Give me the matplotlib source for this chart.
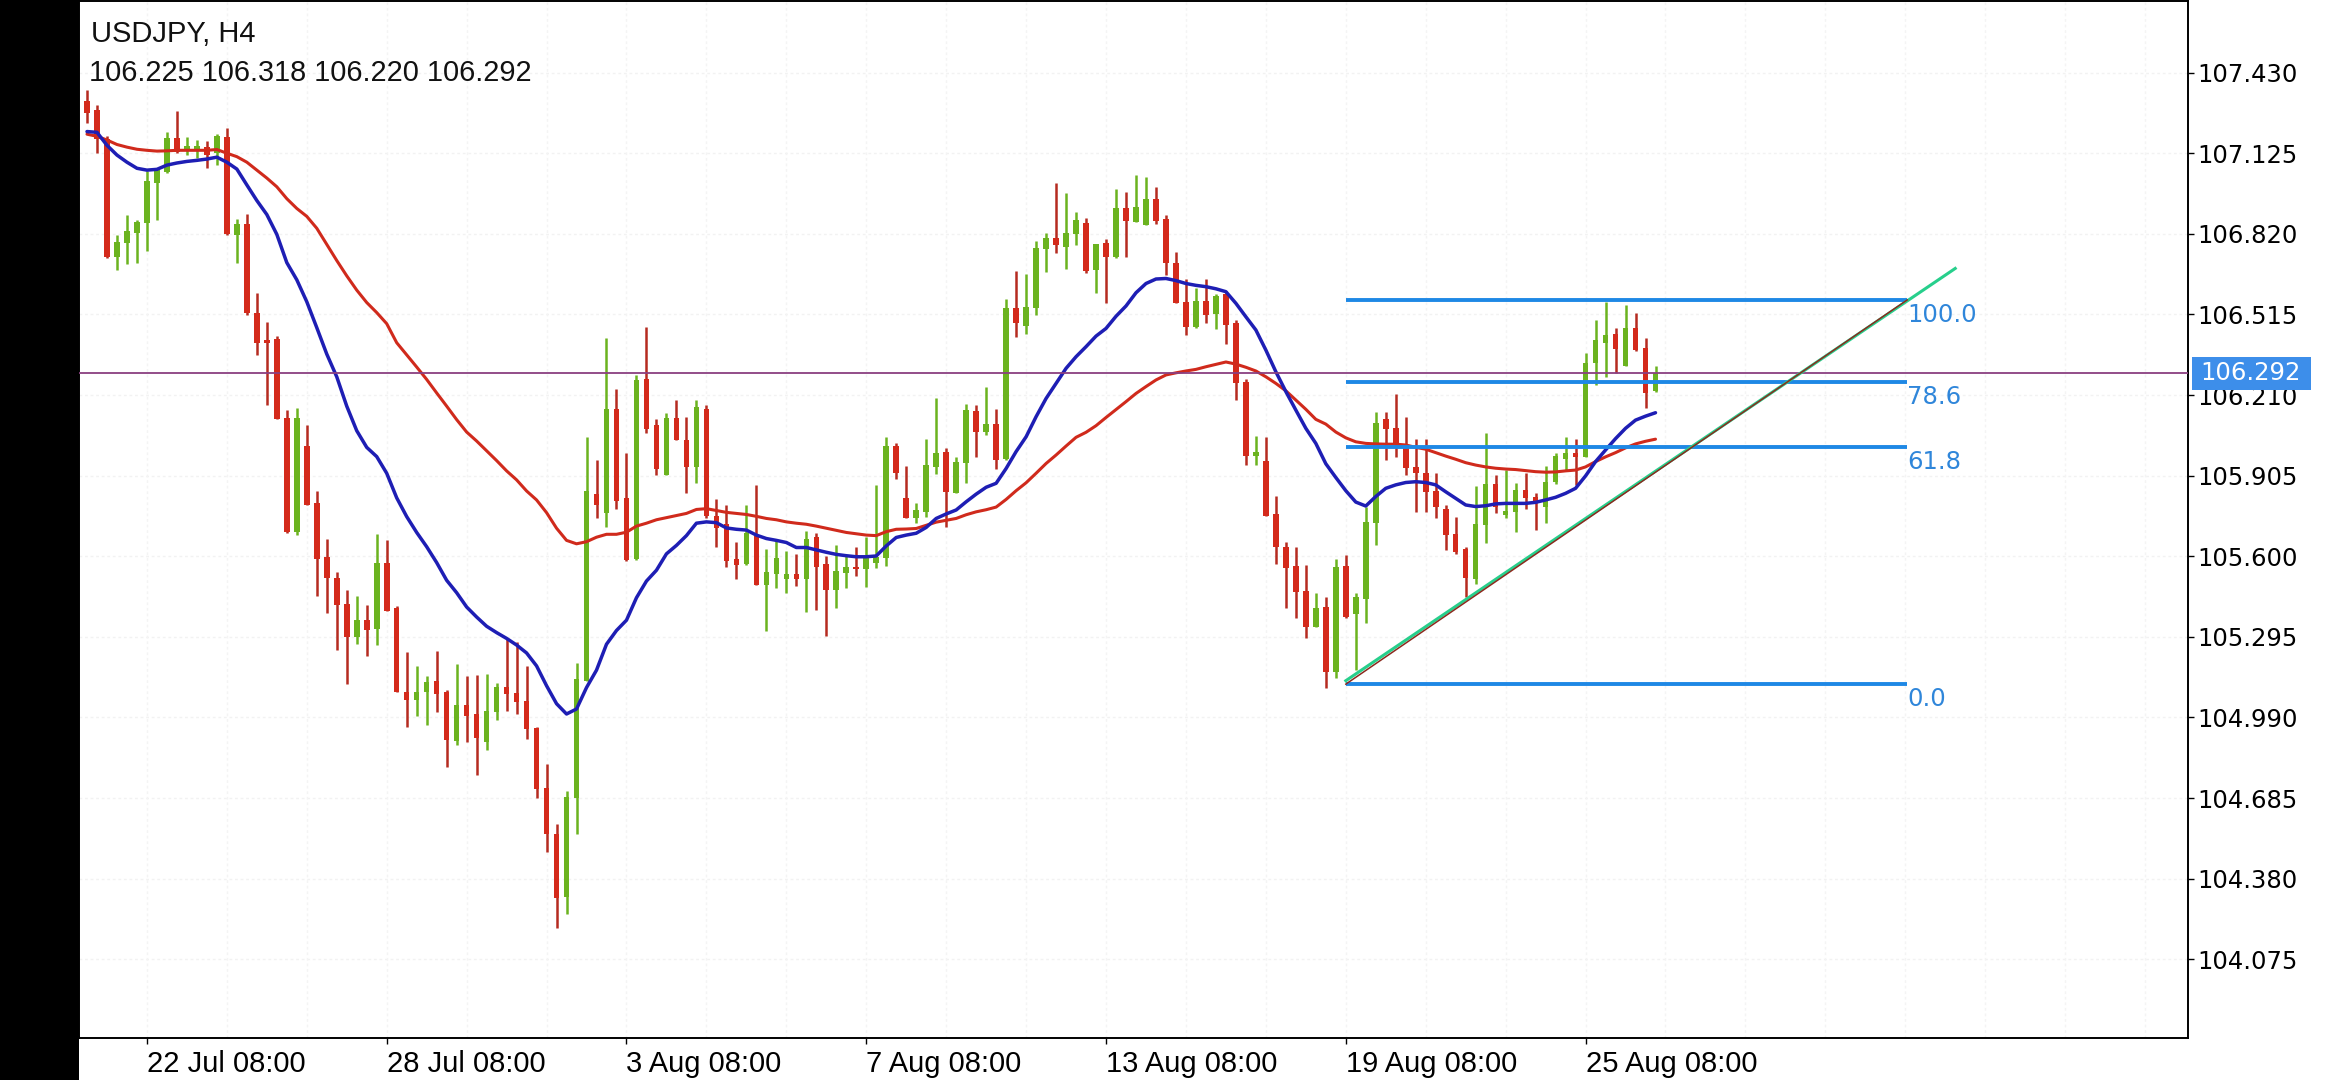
import matplotlib
matplotlib.use("Agg")
import matplotlib.pyplot as plt
from matplotlib.patches import Rectangle
import matplotlib.transforms as mtransforms

# ---------------- data ----------------
symbol_title = "USDJPY, H4"
last_ohlc_text = "106.225 106.318 106.220 106.292"

opens = [107.324, 107.290, 107.178, 106.732, 106.786, 106.823, 106.860, 107.013, 107.055, 107.181,
         107.133, 107.140, 107.148, 107.125, 107.188, 106.815, 106.856, 106.522, 106.417, 106.422,
         106.123, 105.693, 106.018, 105.801, 105.597, 105.516, 105.419, 105.293, 105.360, 105.323,
         105.573, 105.404, 105.087, 105.056, 105.087, 105.129, 105.087, 104.901, 105.036, 105.002,
         104.897, 105.011, 105.107, 105.083, 105.053, 104.951, 104.723, 104.549, 104.310, 104.685,
         105.126, 105.835, 105.762, 106.158, 105.820, 105.589, 106.271, 106.096, 105.907, 106.122,
         106.039, 105.939, 106.158, 105.754, 105.722, 105.589, 105.569, 105.678, 105.490, 105.534,
         105.515, 105.534, 105.515, 105.672, 105.569, 105.471, 105.538, 105.560, 105.550, 105.573,
         105.592, 106.017, 105.819, 105.743, 105.768, 105.936, 105.996, 105.840, 105.951, 106.151,
         106.071, 106.100, 105.967, 106.538, 106.471, 106.538, 106.761, 106.803, 106.769, 106.819,
         106.860, 106.683, 106.784, 106.733, 106.916, 106.866, 106.853, 106.950, 106.875, 106.711,
         106.563, 106.466, 106.567, 106.516, 106.592, 106.484, 106.260, 105.979, 105.961, 105.760,
         105.636, 105.563, 105.470, 105.333, 105.409, 105.161, 105.563, 105.382, 105.437, 105.725,
         106.118, 106.084, 106.015, 105.937, 105.914, 105.847, 105.780, 105.684, 105.627, 105.513,
         105.718, 105.873, 105.756, 105.769, 105.851, 105.826, 105.788, 105.882, 105.967, 105.992,
         105.977, 106.330, 106.408, 106.441, 106.320, 106.462, 106.387, 106.225]
highs = [107.365, 107.309, 107.192, 106.816, 106.890, 106.871, 107.058, 107.070, 107.207, 107.285,
         107.188, 107.175, 107.170, 107.196, 107.222, 106.875, 106.896, 106.597, 106.486, 106.432,
         106.153, 106.160, 106.096, 105.847, 105.664, 105.539, 105.472, 105.450, 105.416, 105.683,
         105.661, 105.411, 105.239, 105.185, 105.146, 105.242, 105.095, 105.191, 105.146, 105.151,
         105.154, 105.120, 105.289, 105.276, 105.185, 104.955, 104.813, 104.588, 104.712, 105.196,
         106.052, 105.966, 106.425, 106.232, 105.992, 106.287, 106.468, 106.118, 106.143, 106.190,
         106.126, 106.193, 106.174, 105.817, 105.793, 105.652, 105.793, 105.871, 105.628, 105.667,
         105.620, 105.609, 105.694, 105.688, 105.601, 105.642, 105.605, 105.636, 105.674, 105.869,
         106.050, 106.030, 105.941, 105.800, 106.042, 106.197, 106.010, 105.974, 106.176, 106.172,
         106.239, 106.156, 106.572, 106.680, 106.668, 106.794, 106.822, 107.011, 106.973, 106.904,
         106.878, 106.781, 106.800, 106.988, 106.979, 107.042, 107.034, 106.996, 106.891, 106.752,
         106.648, 106.614, 106.648, 106.592, 106.605, 106.495, 106.270, 106.055, 106.052, 105.828,
         105.655, 105.636, 105.567, 105.459, 105.445, 105.588, 105.605, 105.460, 105.788, 106.147,
         106.147, 106.213, 106.126, 106.044, 106.044, 105.914, 105.794, 105.747, 105.634, 105.866,
         106.065, 105.907, 105.926, 105.876, 105.916, 105.841, 105.941, 105.992, 106.053, 106.042,
         106.368, 106.494, 106.563, 106.462, 106.551, 106.522, 106.425, 106.318]
lows = [107.240, 107.125, 106.729, 106.684, 106.706, 106.711, 106.756, 106.871, 107.050, 107.125,
        107.118, 107.106, 107.070, 107.080, 106.815, 106.711, 106.512, 106.362, 106.172, 106.118,
        105.689, 105.681, 105.793, 105.449, 105.385, 105.247, 105.115, 105.269, 105.222, 105.264,
        105.394, 105.087, 104.955, 104.994, 104.960, 105.011, 104.803, 104.887, 104.897, 104.774,
        104.867, 104.982, 105.016, 105.002, 104.909, 104.684, 104.482, 104.195, 104.245, 104.549,
        105.126, 105.746, 105.710, 105.777, 105.581, 105.584, 106.067, 105.908, 105.907, 106.039,
        105.840, 105.876, 105.746, 105.636, 105.558, 105.515, 105.566, 105.490, 105.318, 105.479,
        105.459, 105.487, 105.390, 105.396, 105.299, 105.403, 105.478, 105.525, 105.482, 105.554,
        105.563, 105.891, 105.743, 105.724, 105.750, 105.911, 105.712, 105.838, 105.876, 105.974,
        106.059, 105.929, 105.964, 106.428, 106.441, 106.513, 106.677, 106.746, 106.685, 106.778,
        106.673, 106.597, 106.559, 106.727, 106.733, 106.866, 106.853, 106.857, 106.664, 106.557,
        106.437, 106.462, 106.484, 106.458, 106.403, 106.191, 105.945, 105.945, 105.752, 105.571,
        105.403, 105.365, 105.289, 105.333, 105.100, 105.138, 105.365, 105.170, 105.346, 105.643,
        105.964, 105.977, 105.908, 105.769, 105.769, 105.743, 105.624, 105.610, 105.447, 105.495,
        105.649, 105.762, 105.743, 105.693, 105.778, 105.699, 105.725, 105.873, 105.924, 105.870,
        105.977, 106.248, 106.280, 106.295, 106.320, 106.378, 106.160, 106.220]
closes = [107.279, 107.178, 106.732, 106.789, 106.830, 106.866, 107.020, 107.061, 107.181, 107.130,
          107.151, 107.151, 107.118, 107.190, 106.818, 106.856, 106.519, 106.407, 106.405, 106.118,
          105.693, 106.123, 105.793, 105.590, 105.516, 105.416, 105.293, 105.360, 105.320, 105.573,
          105.394, 105.087, 105.056, 105.087, 105.124, 105.078, 104.904, 105.036, 104.994, 104.914,
          105.016, 105.104, 105.078, 105.049, 104.948, 104.718, 104.549, 104.306, 104.690, 105.134,
          105.845, 105.793, 106.158, 105.809, 105.584, 106.268, 106.080, 105.929, 106.122, 106.039,
          105.939, 106.165, 105.754, 105.707, 105.581, 105.566, 105.688, 105.490, 105.542, 105.594,
          105.534, 105.515, 105.667, 105.558, 105.471, 105.545, 105.560, 105.550, 105.596, 105.598,
          106.017, 105.916, 105.743, 105.775, 105.945, 105.989, 105.844, 105.958, 106.153, 106.071,
          106.100, 105.964, 106.538, 106.481, 106.544, 106.765, 106.803, 106.778, 106.822, 106.872,
          106.680, 106.781, 106.733, 106.916, 106.870, 106.920, 106.950, 106.870, 106.708, 106.559,
          106.466, 106.567, 106.513, 106.585, 106.475, 106.254, 105.979, 105.996, 105.752, 105.634,
          105.554, 105.466, 105.331, 105.406, 105.163, 105.561, 105.371, 105.445, 105.728, 106.103,
          106.080, 106.027, 105.933, 105.914, 105.844, 105.785, 105.679, 105.617, 105.516, 105.721,
          105.873, 105.785, 105.773, 105.851, 105.819, 105.800, 105.882, 105.979, 105.989, 105.977,
          106.330, 106.418, 106.437, 106.383, 106.462, 106.380, 106.216, 106.292]

ma_fast = [107.207, 107.204, 107.155, 107.118, 107.091, 107.068, 107.061, 107.064, 107.080, 107.088,
           107.094, 107.098, 107.103, 107.110, 107.091, 107.065, 107.005, 106.946, 106.893, 106.818,
           106.711, 106.646, 106.563, 106.465, 106.365, 106.279, 106.168, 106.075, 106.012, 105.977,
           105.914, 105.821, 105.750, 105.690, 105.636, 105.576, 105.509, 105.462, 105.408, 105.370,
           105.335, 105.311, 105.289, 105.264, 105.234, 105.185, 105.110, 105.042, 105.003, 105.022,
           105.103, 105.169, 105.267, 105.319, 105.358, 105.443, 105.506, 105.547, 105.609, 105.641,
           105.678, 105.725, 105.730, 105.727, 105.707, 105.702, 105.699, 105.680, 105.667, 105.660,
           105.652, 105.633, 105.633, 105.624, 105.615, 105.607, 105.602, 105.598, 105.598, 105.601,
           105.639, 105.671, 105.680, 105.687, 105.709, 105.743, 105.760, 105.775, 105.806, 105.835,
           105.861, 105.876, 105.932, 105.996, 106.052, 106.128, 106.197, 106.254, 106.311, 106.355,
           106.393, 106.433, 106.462, 106.508, 106.547, 106.597, 106.632, 106.649, 106.651, 106.643,
           106.632, 106.625, 106.620, 106.612, 106.601, 106.557, 106.506, 106.456, 106.380, 106.298,
           106.223, 106.153, 106.084, 106.027, 105.950, 105.898, 105.848, 105.805, 105.790, 105.826,
           105.857, 105.870, 105.879, 105.882, 105.879, 105.870, 105.844, 105.819, 105.794, 105.788,
           105.791, 105.798, 105.800, 105.800, 105.800, 105.804, 105.813, 105.823, 105.838, 105.857,
           105.904, 105.958, 106.002, 106.045, 106.084, 106.115, 106.130, 106.143]
ma_slow = [107.197, 107.189, 107.175, 107.158, 107.148, 107.140, 107.136, 107.133, 107.134, 107.136,
           107.136, 107.136, 107.136, 107.139, 107.125, 107.112, 107.091, 107.061, 107.031, 106.998,
           106.953, 106.916, 106.886, 106.841, 106.780, 106.719, 106.661, 106.607, 106.560, 106.522,
           106.480, 106.408, 106.362, 106.316, 106.269, 106.218, 106.168, 106.117, 106.070, 106.036,
           105.999, 105.962, 105.923, 105.889, 105.847, 105.813, 105.765, 105.706, 105.660, 105.647,
           105.655, 105.672, 105.683, 105.683, 105.691, 105.714, 105.725, 105.738, 105.746, 105.754,
           105.762, 105.777, 105.780, 105.773, 105.766, 105.762, 105.758, 105.751, 105.743, 105.738,
           105.730, 105.725, 105.721, 105.714, 105.706, 105.698, 105.690, 105.685, 105.680, 105.678,
           105.693, 105.702, 105.703, 105.705, 105.717, 105.729, 105.736, 105.743, 105.757, 105.768,
           105.776, 105.786, 105.815, 105.848, 105.878, 105.914, 105.951, 105.983, 106.017, 106.050,
           106.069, 106.094, 106.125, 106.155, 106.185, 106.216, 106.242, 106.267, 106.286, 106.294,
           106.301, 106.307, 106.317, 106.326, 106.335, 106.327, 106.315, 106.301, 106.279, 106.254,
           106.226, 106.191, 106.156, 106.118, 106.100, 106.070, 106.048, 106.033, 106.027, 106.025,
           106.024, 106.024, 106.021, 106.012, 106.005, 105.992, 105.979, 105.967, 105.954, 105.945,
           105.938, 105.933, 105.930, 105.928, 105.924, 105.920, 105.918, 105.919, 105.923, 105.926,
           105.938, 105.958, 105.976, 105.992, 106.010, 106.025, 106.035, 106.043]

date_tick_bars = [6, 30, 54, 78, 102, 126, 150]
date_tick_labels = ["22 Jul 08:00", "28 Jul 08:00", "3 Aug 08:00", "7 Aug 08:00",
                    "13 Aug 08:00", "19 Aug 08:00", "25 Aug 08:00"]
price_ticks = [107.430, 107.125, 106.820, 106.515, 106.210, 105.905,
               105.600, 105.295, 104.990, 104.685, 104.380, 104.075]
grid_bars = [-2, 6, 14, 22, 30, 38, 46, 54, 62, 70, 78, 86, 94, 102, 110, 118, 126,
             134, 142, 150, 158, 166, 174, 182, 190, 198, 206]

fib_low = 105.116
fib_high = 106.570
fib_ratios = [0.0, 0.618, 0.786, 1.0]
fib_labels = ["0.0", "61.8", "78.6", "100.0"]
fib_start_bar = 126
fib_end_bar = 182.2

trend_start = (126, 105.129)
trend_end = (187, 106.689)

# ---------------- figure ----------------
W, H = 2340, 1080
fig = plt.figure(figsize=(W / 100, H / 100), dpi=100)
fig.patch.set_facecolor("white")

ax_l, ax_r, ax_t, ax_b = 79, 2188, 1, 1038
ax = fig.add_axes([ax_l / W, 1 - ax_b / H, (ax_r - ax_l) / W, (ax_b - ax_t) / H])
fig.add_artist(Rectangle((0, 0), ax_l / W, 1, transform=fig.transFigure,
                         facecolor="black", edgecolor="none", zorder=10))

n = len(opens)
xs = list(range(n))
ax.set_xlim(-0.8, 210.3)
ax.set_ylim(103.777, 107.701)

GREEN = "#6BB31F"
RED = "#D42A1B"
RED_WICK = "#B52B20"

# very faint dotted grid
for p in price_ticks:
    ax.axhline(p, color="#F2F2F2", lw=1.0, ls=(0, (2, 2)), zorder=0)
for g in grid_bars:
    ax.axvline(g, color="#F4F4F4", lw=1.0, ls=(0, (2, 2)), zorder=0)

# candles
for i in xs:
    o, h, l, c = opens[i], highs[i], lows[i], closes[i]
    up = c >= o
    col = GREEN if up else RED
    ax.vlines(i, l, h, color=(GREEN if up else RED_WICK), lw=1.8, zorder=2)
    bot = min(o, c)
    hgt = max(abs(c - o), 0.006)
    ax.bar(i, hgt, bottom=bot - (0.003 if abs(c - o) < 0.006 else 0), width=0.56,
           color=col, edgecolor="none", zorder=2.5)

# moving averages
ax.plot(xs, ma_slow, color="#D02A1C", lw=2.2, zorder=3, solid_capstyle="round")
ax.plot(xs, ma_fast, color="#1E1EB4", lw=2.5, zorder=3.1, solid_capstyle="round")

# current price line
ax.axhline(closes[-1], color="#8A3F80", lw=1.3, zorder=4)

# fibonacci levels
FIB = "#1E88E5"
for r, lab in zip(fib_ratios, fib_labels):
    lvl = fib_low + r * (fib_high - fib_low)
    ax.plot([fib_start_bar, fib_end_bar], [lvl, lvl], color=FIB, lw=2.8, zorder=5,
            solid_capstyle="butt")
    ax.annotate(lab, xy=(fib_end_bar, lvl), xytext=(0, -11), textcoords="offset points",
                ha="left", va="center", color="#2F86DA", fontsize=17.5,
                family="DejaVu Sans", zorder=7)

# trend lines
ax.plot([trend_start[0], trend_end[0]], [trend_start[1], trend_end[1]],
        color="#27CF8C", lw=2.2, zorder=6)
ax.plot([fib_start_bar, fib_end_bar], [fib_low, fib_high], color="#8B2A1E", lw=1.1, zorder=6.1)

# axes styling
for s in ["top", "right", "bottom", "left"]:
    ax.spines[s].set_color("black")
    ax.spines[s].set_linewidth(1.4)
ax.yaxis.tick_right()
ax.set_yticks(price_ticks)
ax.set_yticklabels([f"{p:.3f}" for p in price_ticks])
ax.tick_params(axis="y", direction="out", length=4, width=1, pad=3,
               labelsize=17.5, labelcolor="black")
for t in ax.get_yticklabels():
    t.set_family("DejaVu Sans")
ax.set_xticks(date_tick_bars)
ax.set_xticklabels(date_tick_labels)
ax.tick_params(axis="x", direction="out", length=4, width=1, pad=5,
               labelsize=21, labelcolor="black")
for t in ax.get_xticklabels():
    t.set_family(["Liberation Sans", "DejaVu Sans"])
    t.set_horizontalalignment("left")

# current price box on the right axis
blend = mtransforms.blended_transform_factory(ax.transAxes, ax.transData)
px_x = 1.0 / (ax_r - ax_l)
px_y = (107.701 - 103.777) / (ax_b - ax_t)
ax.add_patch(Rectangle((1 + 4 * px_x, closes[-1] - 16.5 * px_y), 119 * px_x, 33 * px_y,
                       transform=blend, facecolor="#3D8EEA", edgecolor="none",
                       clip_on=False, zorder=20))
ax.text(1 + 12 * px_x, closes[-1], f"{closes[-1]:.3f}", transform=blend, ha="left",
        va="center", color="white", fontsize=17.5, family="DejaVu Sans", zorder=21,
        clip_on=False)

# header texts
fig.text(91 / W, 1 - 34 / H, symbol_title, ha="left", va="center", fontsize=21,
         family=["Liberation Sans", "DejaVu Sans"], color="#111111")
fig.text(89 / W, 1 - 73 / H, last_ohlc_text, ha="left", va="center", fontsize=20.8,
         family=["Liberation Sans", "DejaVu Sans"], color="#111111")

fig.savefig("out.png", dpi=100, facecolor="white")
